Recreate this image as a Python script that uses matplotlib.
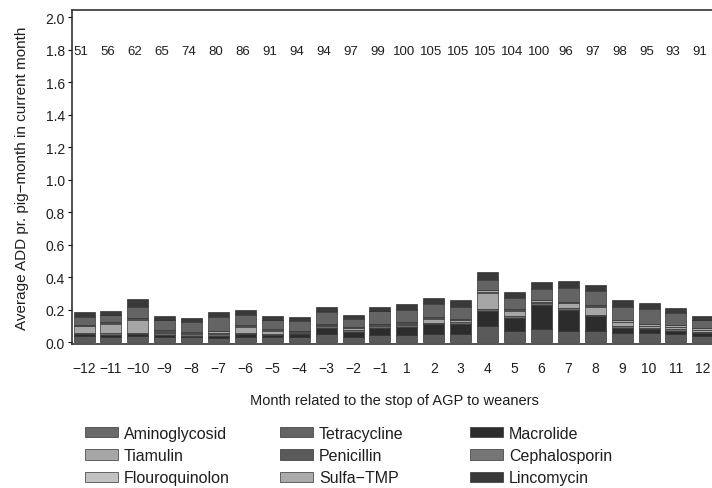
import matplotlib

matplotlib.use("Agg")

import matplotlib.pyplot as plt
import numpy as np

plt.rcParams['font.family'] = ['Liberation Sans', 'DejaVu Sans']

# months relative to the stop of AGP (there is no month 0)
months = [-12, -11, -10, -9, -8, -7, -6, -5, -4, -3, -2, -1,
          1, 2, 3, 4, 5, 6, 7, 8, 9, 10, 11, 12]
herds = [51, 56, 62, 65, 74, 80, 86, 91, 94, 94, 97, 99,
         100, 105, 105, 105, 104, 100, 96, 97, 98, 95, 93, 91]

# ADD per pig-month, one list per class (stacked bottom -> top)
penicillin = [0.04, 0.035, 0.04, 0.035, 0.03, 0.025, 0.035, 0.03, 0.035, 0.05, 0.035, 0.045,
              0.045, 0.05, 0.05, 0.10, 0.07, 0.08, 0.07, 0.07, 0.06, 0.06, 0.05, 0.04]
macrolide = [0.01, 0.01, 0.01, 0.01, 0.01, 0.015, 0.015, 0.012, 0.015, 0.04, 0.03, 0.045,
             0.05, 0.06, 0.065, 0.09, 0.08, 0.15, 0.13, 0.09, 0.03, 0.02, 0.02, 0.015]
aminoglycosid = [0.01, 0.01, 0.01, 0.01, 0.008, 0.01, 0.01, 0.01, 0.01, 0.01, 0.01, 0.01,
                 0.01, 0.01, 0.01, 0.015, 0.01, 0.01, 0.01, 0.01, 0.01, 0.01, 0.01, 0.01]
tiamulin = [0.04, 0.06, 0.08, 0.01, 0.005, 0.008, 0.035, 0.02, 0.005, 0.005, 0.01, 0.008,
            0.01, 0.025, 0.01, 0.10, 0.035, 0.008, 0.03, 0.05, 0.025, 0.008, 0.015, 0.01]
flouroquinolon = [0.003, 0.003, 0.005, 0.002, 0.002, 0.002, 0.003, 0.002, 0.002, 0.002, 0.002, 0.002,
                  0.002, 0.003, 0.002, 0.005, 0.003, 0.002, 0.003, 0.003, 0.002, 0.002, 0.002, 0.002]
sulfa_tmp = [0.005, 0.005, 0.005, 0.008, 0.01, 0.01, 0.007, 0.006, 0.005, 0.005, 0.008, 0.005,
             0.008, 0.007, 0.008, 0.01, 0.007, 0.01, 0.007, 0.007, 0.008, 0.01, 0.008, 0.008]
tetracycline = [0.047, 0.042, 0.07, 0.06, 0.058, 0.085, 0.065, 0.055, 0.058, 0.073, 0.05, 0.075,
                0.075, 0.08, 0.075, 0.065, 0.07, 0.07, 0.085, 0.085, 0.085, 0.095, 0.075, 0.05]
cephalosporin = [0.005] * 24
lincomycin = [0.025, 0.02, 0.04, 0.02, 0.02, 0.025, 0.025, 0.02, 0.02, 0.03, 0.02, 0.025,
              0.03, 0.035, 0.035, 0.04, 0.03, 0.035, 0.035, 0.035, 0.035, 0.03, 0.025, 0.02]

stack = [
    ("Penicillin", penicillin, "#5a5a5a"),
    ("Macrolide", macrolide, "#2c2c2c"),
    ("Aminoglycosid", aminoglycosid, "#6a6a6a"),
    ("Tiamulin", tiamulin, "#a6a6a6"),
    ("Flouroquinolon", flouroquinolon, "#c2c2c2"),
    ("Sulfa\u2212TMP", sulfa_tmp, "#ababab"),
    ("Tetracycline", tetracycline, "#646464"),
    ("Cephalosporin", cephalosporin, "#767676"),
    ("Lincomycin", lincomycin, "#393939"),
]
legend_cols = [["Aminoglycosid", "Tiamulin", "Flouroquinolon"],
               ["Tetracycline", "Penicillin", "Sulfa\u2212TMP"],
               ["Macrolide", "Cephalosporin", "Lincomycin"]]
legend_x = [0.119, 0.393, 0.660]

fig = plt.figure(figsize=(7.12, 4.89), dpi=100)
ax = fig.add_axes([0.101, 0.294, 0.905, 0.683])

x = np.arange(len(months))
bottom = np.zeros(len(months))
handles = {}
for name, vals, col in stack:
    b = ax.bar(x, vals, width=0.78, bottom=bottom, color=col,
               edgecolor="#333333", linewidth=0.5, label=name)
    handles[name] = b
    bottom += np.array(vals)

for xi, n in zip(x, herds):
    ax.text(xi - 0.1, 1.79, str(n), ha="center", va="center", fontsize=9.5, color="#1e1e1e")

ax.set_xlim(-0.45, len(months) - 0.5)
ax.set_ylim(-0.012, 2.043)
ax.set_yticks(np.arange(0, 2.01, 0.2))
ax.set_yticklabels(["%.1f" % v for v in np.arange(0, 2.01, 0.2)])
ax.set_xticks(x)
ax.set_xticklabels([str(m).replace("-", "\u2212") for m in months])
ax.tick_params(axis="x", length=0, pad=12, labelsize=10, labelcolor="#1e1e1e")
ax.tick_params(axis="y", length=3, width=0.8, labelsize=10, pad=2, labelcolor="#1e1e1e")
ax.spines["right"].set_visible(False)
for s in ["left", "bottom", "top"]:
    ax.spines[s].set_linewidth(1.2)
    ax.spines[s].set_color("#333333")

ax.set_xlabel("Month related to the stop of AGP to weaners", fontsize=10.5, labelpad=13,
              color="#1e1e1e")
ax.set_ylabel("Average ADD pr. pig\u2212month in current month", fontsize=11, labelpad=12,
              color="#1e1e1e")

for names, lx in zip(legend_cols, legend_x):
    fig.legend([handles[n] for n in names], names, ncol=1,
               loc="upper left", bbox_to_anchor=(lx, 0.127), frameon=False,
               fontsize=11.5, handlelength=2.1, handleheight=0.6, handletextpad=0.35,
               labelspacing=0.45, borderaxespad=0, borderpad=0, labelcolor="#1e1e1e")

fig.savefig("out.png", dpi=100)
